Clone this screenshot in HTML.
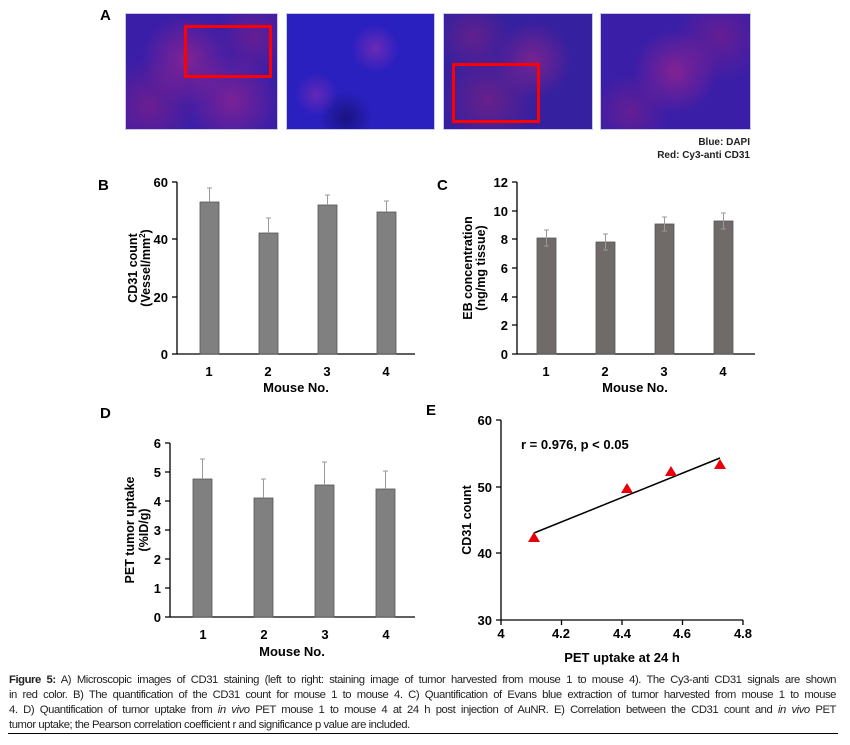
<!DOCTYPE html>
<html><head><style>
body{margin:0;background:#fff;width:850px;height:745px;overflow:hidden;position:relative;font-family:"Liberation Sans",sans-serif}
.cap{position:absolute;left:9px;top:673px;width:827px;font-size:11.3px;line-height:15px;color:#222;font-family:"Liberation Sans Narrow","Liberation Sans",sans-serif;letter-spacing:-0.45px}
.cap div{text-align:justify;text-align-last:justify;white-space:nowrap;overflow:visible}
.cap div.l{text-align-last:left}
.img{position:absolute;top:13px;height:117px;border:1px solid #c8c8e0;box-sizing:border-box}
</style></head><body>
<div class="img" style="left:125px;width:153px;background:radial-gradient(circle at 40% 40%,rgba(220,40,120,.45),transparent 40%),radial-gradient(circle at 70% 75%,rgba(220,40,120,.4),transparent 35%),radial-gradient(circle at 15% 80%,rgba(200,30,100,.35),transparent 30%),radial-gradient(circle at 85% 20%,rgba(200,30,100,.3),transparent 25%),#3a1ea8"></div>
<div class="img" style="left:286px;width:149px;background:radial-gradient(circle at 60% 30%,rgba(230,60,160,.35),transparent 20%),radial-gradient(circle at 20% 70%,rgba(230,60,160,.3),transparent 15%),radial-gradient(circle at 40% 90%,rgba(0,0,40,.4),transparent 20%),#2a20c0"></div>
<div class="img" style="left:443px;width:150px;background:radial-gradient(circle at 60% 40%,rgba(220,40,120,.4),transparent 35%),radial-gradient(circle at 30% 75%,rgba(200,30,100,.35),transparent 35%),radial-gradient(circle at 20% 20%,rgba(200,30,100,.3),transparent 25%),#35209f"></div>
<div class="img" style="left:600px;width:151px;background:radial-gradient(circle at 50% 50%,rgba(220,40,120,.45),transparent 45%),radial-gradient(circle at 80% 20%,rgba(200,30,100,.3),transparent 30%),radial-gradient(circle at 20% 85%,rgba(200,30,100,.3),transparent 25%),#3a1ea8"></div>
<div style="position:absolute;left:184px;top:25px;width:88px;height:53px;border:3px solid #f00;box-sizing:border-box"></div>
<div style="position:absolute;left:452px;top:63px;width:88px;height:60px;border:3px solid #f00;box-sizing:border-box"></div>
<svg width="850" height="745" style="position:absolute;left:0;top:0" font-family="Liberation Sans, sans-serif" font-weight="bold" font-size="13">
<text x="100" y="20" font-size="15">A</text>
<text x="750" y="145" font-size="10" text-anchor="end" fill="#222">Blue: DAPI</text>
<text x="750" y="158" font-size="10" text-anchor="end" fill="#222">Red: Cy3-anti CD31</text>

<!-- B -->
<text x="98" y="190" font-size="15">B</text>
<g stroke="#000" stroke-width="1.3"><line x1="177" y1="182" x2="177" y2="354"/><line x1="177" y1="354" x2="415" y2="354"/>
<line x1="172" y1="182" x2="177" y2="182"/><line x1="172" y1="239" x2="177" y2="239"/><line x1="172" y1="297" x2="177" y2="297"/><line x1="172" y1="354" x2="177" y2="354"/></g>
<g text-anchor="end"><text x="168" y="187">60</text><text x="168" y="244">40</text><text x="168" y="302">20</text><text x="168" y="359">0</text></g>
<g fill="#808080" stroke="#555" stroke-width="0.8"><rect x="200" y="202" width="19" height="152"/><rect x="259" y="233" width="19" height="121"/><rect x="318" y="205" width="19" height="149"/><rect x="377" y="212" width="19" height="142"/></g>
<g stroke="#999" stroke-width="1"><path d="M209.5 202V188M207 188h5M268.5 233V218M266 218h5M327.5 205V195M325 195h5M386.5 212V201M384 201h5"/></g>
<g text-anchor="middle"><text x="209" y="376">1</text><text x="268" y="376">2</text><text x="327" y="376">3</text><text x="386" y="376">4</text><text x="296" y="392">Mouse No.</text></g>
<text transform="translate(137,268) rotate(-90)" text-anchor="middle" font-size="12.5">CD31 count</text>
<text transform="translate(150,268) rotate(-90)" text-anchor="middle" font-size="12.5">(Vessel/mm<tspan font-size="8" dy="-5">2</tspan><tspan dy="5">)</tspan></text>

<!-- C -->
<text x="437" y="190" font-size="15">C</text>
<g stroke="#000" stroke-width="1.3"><line x1="517" y1="182" x2="517" y2="354"/><line x1="517" y1="354" x2="755" y2="354"/>
<path d="M512 182h5M512 211h5M512 239h5M512 268h5M512 297h5M512 325h5M512 354h5"/></g>
<g text-anchor="end"><text x="508" y="187">12</text><text x="508" y="216">10</text><text x="508" y="244">8</text><text x="508" y="273">6</text><text x="508" y="302">4</text><text x="508" y="330">2</text><text x="508" y="359">0</text></g>
<g fill="#706a69" stroke="#555" stroke-width="0.8"><rect x="537" y="238" width="19" height="116"/><rect x="596" y="242" width="19" height="112"/><rect x="655" y="224" width="19" height="130"/><rect x="714" y="221" width="19" height="133"/></g>
<g stroke="#999" stroke-width="1"><path d="M546.5 230V246M544 230h5M544 246h5M605.5 234V250M603 234h5M603 250h5M664.5 217V231M662 217h5M662 231h5M723.5 213V229M721 213h5M721 229h5"/></g>
<g text-anchor="middle"><text x="546" y="376">1</text><text x="605" y="376">2</text><text x="664" y="376">3</text><text x="723" y="376">4</text><text x="635" y="392">Mouse No.</text></g>
<text transform="translate(472,268) rotate(-90)" text-anchor="middle" font-size="12.5">EB concentration</text>
<text transform="translate(485,268) rotate(-90)" text-anchor="middle" font-size="12.5">(ng/mg tissue)</text>

<!-- D -->
<text x="100" y="418" font-size="15">D</text>
<g stroke="#000" stroke-width="1.3"><line x1="170" y1="443" x2="170" y2="617"/><line x1="170" y1="617" x2="415" y2="617"/>
<path d="M165 443h5M165 472h5M165 501h5M165 530h5M165 559h5M165 588h5M165 617h5"/></g>
<g text-anchor="end"><text x="161" y="448">6</text><text x="161" y="477">5</text><text x="161" y="506">4</text><text x="161" y="535">3</text><text x="161" y="564">2</text><text x="161" y="593">1</text><text x="161" y="622">0</text></g>
<g fill="#808080" stroke="#555" stroke-width="0.8"><rect x="193" y="479" width="19" height="138"/><rect x="254" y="498" width="19" height="119"/><rect x="315" y="485" width="19" height="132"/><rect x="376" y="489" width="19" height="128"/></g>
<g stroke="#999" stroke-width="1"><path d="M202.5 479V459M200 459h5M263.5 498V479M261 479h5M324.5 485V462M322 462h5M385.5 489V471M383 471h5"/></g>
<g text-anchor="middle"><text x="203" y="639">1</text><text x="264" y="639">2</text><text x="325" y="639">3</text><text x="386" y="639">4</text><text x="292" y="656">Mouse No.</text></g>
<text transform="translate(134,530) rotate(-90)" text-anchor="middle" font-size="12.5">PET tumor uptake</text>
<text transform="translate(148,530) rotate(-90)" text-anchor="middle" font-size="12.5">(%ID/g)</text>

<!-- E -->
<text x="426" y="415" font-size="15">E</text>
<g stroke="#000" stroke-width="1.3"><line x1="501" y1="420" x2="501" y2="620"/><line x1="501" y1="620" x2="743" y2="620"/>
<path d="M496 420h5M496 487h5M496 553h5M496 620h5M501 620v5M561.5 620v5M622 620v5M682.5 620v5M743 620v5"/></g>
<g text-anchor="end"><text x="492" y="425">60</text><text x="492" y="492">50</text><text x="492" y="558">40</text><text x="492" y="625">30</text></g>
<g text-anchor="middle"><text x="501" y="638">4</text><text x="561" y="638">4.2</text><text x="622" y="638">4.4</text><text x="682" y="638">4.6</text><text x="743" y="638">4.8</text><text x="622" y="662">PET uptake at 24 h</text></g>
<text transform="translate(471,520) rotate(-90)" text-anchor="middle" font-size="12.5">CD31 count</text>
<text x="521" y="449">r = 0.976,  p &lt; 0.05</text>
<line x1="534" y1="533" x2="720" y2="458" stroke="#000" stroke-width="1.5"/>
<g fill="#e8000b"><path d="M534 532l-6 10h12z"/><path d="M627 483l-6 10h12z"/><path d="M671 466l-6 10h12z"/><path d="M720 459l-6 10h12z"/></g>
</svg>
<div class="cap">
<div><b>Figure 5:</b> A) Microscopic images of CD31 staining (left to right: staining image of tumor harvested from mouse 1 to mouse 4). The Cy3-anti CD31 signals are shown</div>
<div>in red color. B) The quantification of the CD31 count for mouse 1 to mouse 4. C) Quantification of Evans blue extraction of tumor harvested from mouse 1 to mouse</div>
<div>4. D) Quantification of tumor uptake from <i>in vivo</i> PET mouse 1 to mouse 4 at 24 h post injection of AuNR. E) Correlation between the CD31 count and <i>in vivo</i> PET</div>
<div class="l">tumor uptake; the Pearson correlation coefficient r and significance p value are included.</div>
</div>
<div style="position:absolute;left:8px;top:733px;width:830px;height:1px;background:#000"></div>
</body></html>
